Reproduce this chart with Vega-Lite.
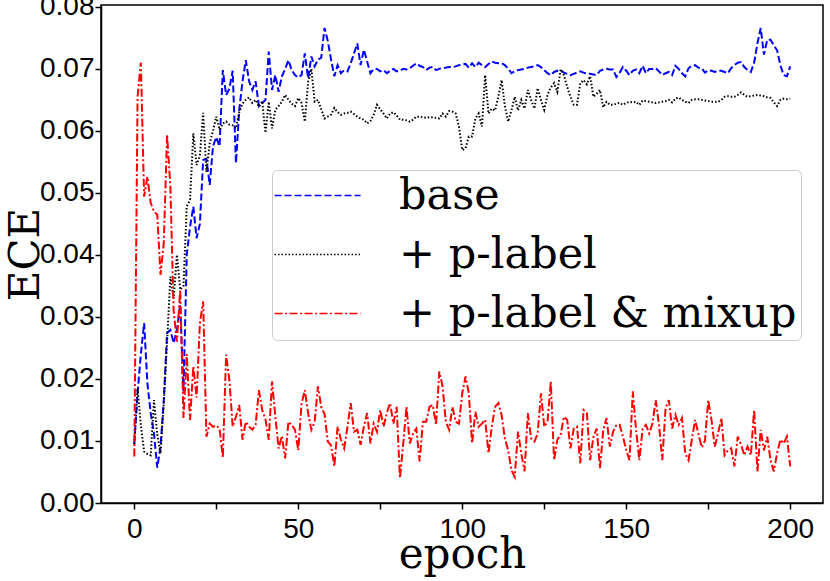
{
  "$schema": "https://vega.github.io/schema/vega-lite/v6.json",
  "width": 722,
  "height": 498,
  "padding": {"left": 101, "top": 5, "right": 7, "bottom": 78},
  "autosize": {"type": "none"},
  "data": {
    "values": [
      {"s":"base","e":0,"v":0.0096},{"s":"base","e":1,"v":0.0177},{"s":"base","e":2,"v":0.0240},{"s":"base","e":3,"v":0.0290},{"s":"base","e":4,"v":0.0193},
      {"s":"base","e":5,"v":0.0145},{"s":"base","e":6,"v":0.0112},{"s":"base","e":7,"v":0.0057},{"s":"base","e":8,"v":0.0091},{"s":"base","e":9,"v":0.0166},
      {"s":"base","e":10,"v":0.0274},{"s":"base","e":11,"v":0.0279},{"s":"base","e":12,"v":0.0258},{"s":"base","e":13,"v":0.0280},{"s":"base","e":14,"v":0.0320},
      {"s":"base","e":15,"v":0.0180},{"s":"base","e":16,"v":0.0400},{"s":"base","e":17,"v":0.0445},{"s":"base","e":18,"v":0.0478},{"s":"base","e":19,"v":0.0427},
      {"s":"base","e":20,"v":0.0450},{"s":"base","e":21,"v":0.0553},{"s":"base","e":22,"v":0.0555},{"s":"base","e":23,"v":0.0513},{"s":"base","e":24,"v":0.0575},
      {"s":"base","e":25,"v":0.0590},{"s":"base","e":26,"v":0.0575},{"s":"base","e":27,"v":0.0698},{"s":"base","e":28,"v":0.0658},{"s":"base","e":29,"v":0.0668},
      {"s":"base","e":30,"v":0.0697},{"s":"base","e":31,"v":0.0548},{"s":"base","e":32,"v":0.0634},{"s":"base","e":33,"v":0.0680},{"s":"base","e":34,"v":0.0714},
      {"s":"base","e":35,"v":0.0680},{"s":"base","e":36,"v":0.0666},{"s":"base","e":37,"v":0.0680},{"s":"base","e":38,"v":0.0640},{"s":"base","e":39,"v":0.0645},
      {"s":"base","e":40,"v":0.0650},{"s":"base","e":41,"v":0.0728},{"s":"base","e":42,"v":0.0666},{"s":"base","e":43,"v":0.0690},{"s":"base","e":44,"v":0.0663},
      {"s":"base","e":45,"v":0.0688},{"s":"base","e":46,"v":0.0700},{"s":"base","e":47,"v":0.0714},{"s":"base","e":48,"v":0.0698},{"s":"base","e":49,"v":0.0690},
      {"s":"base","e":50,"v":0.0686},{"s":"base","e":51,"v":0.0690},{"s":"base","e":52,"v":0.0725},{"s":"base","e":53,"v":0.0685},{"s":"base","e":54,"v":0.0720},
      {"s":"base","e":55,"v":0.0704},{"s":"base","e":56,"v":0.0715},{"s":"base","e":57,"v":0.0718},{"s":"base","e":58,"v":0.0766},{"s":"base","e":59,"v":0.0745},
      {"s":"base","e":60,"v":0.0715},{"s":"base","e":61,"v":0.0688},{"s":"base","e":62,"v":0.0706},{"s":"base","e":63,"v":0.0693},{"s":"base","e":64,"v":0.0698},
      {"s":"base","e":65,"v":0.0696},{"s":"base","e":66,"v":0.0709},{"s":"base","e":67,"v":0.0725},{"s":"base","e":68,"v":0.0741},{"s":"base","e":69,"v":0.0706},
      {"s":"base","e":70,"v":0.0731},{"s":"base","e":71,"v":0.0712},{"s":"base","e":72,"v":0.0693},{"s":"base","e":73,"v":0.0700},{"s":"base","e":74,"v":0.0700},
      {"s":"base","e":75,"v":0.0696},{"s":"base","e":76,"v":0.0698},{"s":"base","e":77,"v":0.0693},{"s":"base","e":78,"v":0.0697},{"s":"base","e":79,"v":0.0700},
      {"s":"base","e":80,"v":0.0696},{"s":"base","e":81,"v":0.0697},{"s":"base","e":82,"v":0.0700},{"s":"base","e":83,"v":0.0699},{"s":"base","e":84,"v":0.0701},
      {"s":"base","e":85,"v":0.0705},{"s":"base","e":86,"v":0.0709},{"s":"base","e":87,"v":0.0705},{"s":"base","e":88,"v":0.0703},{"s":"base","e":89,"v":0.0698},
      {"s":"base","e":90,"v":0.0702},{"s":"base","e":91,"v":0.0703},{"s":"base","e":92,"v":0.0698},{"s":"base","e":93,"v":0.0700},{"s":"base","e":94,"v":0.0701},
      {"s":"base","e":95,"v":0.0702},{"s":"base","e":96,"v":0.0703},{"s":"base","e":97,"v":0.0703},{"s":"base","e":98,"v":0.0704},{"s":"base","e":99,"v":0.0706},
      {"s":"base","e":100,"v":0.0707},{"s":"base","e":101,"v":0.0708},{"s":"base","e":102,"v":0.0702},{"s":"base","e":103,"v":0.0709},{"s":"base","e":104,"v":0.0703},
      {"s":"base","e":105,"v":0.0710},{"s":"base","e":106,"v":0.0706},{"s":"base","e":107,"v":0.0703},{"s":"base","e":108,"v":0.0708},{"s":"base","e":109,"v":0.0712},
      {"s":"base","e":110,"v":0.0710},{"s":"base","e":111,"v":0.0709},{"s":"base","e":112,"v":0.0709},{"s":"base","e":113,"v":0.0706},{"s":"base","e":114,"v":0.0701},
      {"s":"base","e":115,"v":0.0693},{"s":"base","e":116,"v":0.0696},{"s":"base","e":117,"v":0.0698},{"s":"base","e":118,"v":0.0699},{"s":"base","e":119,"v":0.0700},
      {"s":"base","e":120,"v":0.0702},{"s":"base","e":121,"v":0.0703},{"s":"base","e":122,"v":0.0704},{"s":"base","e":123,"v":0.0706},{"s":"base","e":124,"v":0.0703},
      {"s":"base","e":125,"v":0.0698},{"s":"base","e":126,"v":0.0693},{"s":"base","e":127,"v":0.0690},{"s":"base","e":128,"v":0.0695},{"s":"base","e":129,"v":0.0697},
      {"s":"base","e":130,"v":0.0698},{"s":"base","e":131,"v":0.0694},{"s":"base","e":132,"v":0.0692},{"s":"base","e":133,"v":0.0690},{"s":"base","e":134,"v":0.0692},
      {"s":"base","e":135,"v":0.0694},{"s":"base","e":136,"v":0.0696},{"s":"base","e":137,"v":0.0694},{"s":"base","e":138,"v":0.0692},{"s":"base","e":139,"v":0.0692},
      {"s":"base","e":140,"v":0.0691},{"s":"base","e":141,"v":0.0690},{"s":"base","e":142,"v":0.0697},{"s":"base","e":143,"v":0.0699},{"s":"base","e":144,"v":0.0700},
      {"s":"base","e":145,"v":0.0699},{"s":"base","e":146,"v":0.0699},{"s":"base","e":147,"v":0.0687},{"s":"base","e":148,"v":0.0694},{"s":"base","e":149,"v":0.0703},
      {"s":"base","e":150,"v":0.0697},{"s":"base","e":151,"v":0.0690},{"s":"base","e":152,"v":0.0697},{"s":"base","e":153,"v":0.0699},{"s":"base","e":154,"v":0.0693},
      {"s":"base","e":155,"v":0.0705},{"s":"base","e":156,"v":0.0693},{"s":"base","e":157,"v":0.0700},{"s":"base","e":158,"v":0.0700},{"s":"base","e":159,"v":0.0701},
      {"s":"base","e":160,"v":0.0696},{"s":"base","e":161,"v":0.0690},{"s":"base","e":162,"v":0.0693},{"s":"base","e":163,"v":0.0695},{"s":"base","e":164,"v":0.0690},
      {"s":"base","e":165,"v":0.0705},{"s":"base","e":166,"v":0.0700},{"s":"base","e":167,"v":0.0693},{"s":"base","e":168,"v":0.0688},{"s":"base","e":169,"v":0.0701},
      {"s":"base","e":170,"v":0.0705},{"s":"base","e":171,"v":0.0706},{"s":"base","e":172,"v":0.0702},{"s":"base","e":173,"v":0.0701},{"s":"base","e":174,"v":0.0694},
      {"s":"base","e":175,"v":0.0698},{"s":"base","e":176,"v":0.0697},{"s":"base","e":177,"v":0.0695},{"s":"base","e":178,"v":0.0697},{"s":"base","e":179,"v":0.0697},
      {"s":"base","e":180,"v":0.0695},{"s":"base","e":181,"v":0.0693},{"s":"base","e":182,"v":0.0701},{"s":"base","e":183,"v":0.0706},{"s":"base","e":184,"v":0.0710},
      {"s":"base","e":185,"v":0.0711},{"s":"base","e":186,"v":0.0703},{"s":"base","e":187,"v":0.0698},{"s":"base","e":188,"v":0.0695},{"s":"base","e":189,"v":0.0710},
      {"s":"base","e":190,"v":0.0741},{"s":"base","e":191,"v":0.0766},{"s":"base","e":192,"v":0.0723},{"s":"base","e":193,"v":0.0747},{"s":"base","e":194,"v":0.0747},
      {"s":"base","e":195,"v":0.0738},{"s":"base","e":196,"v":0.0730},{"s":"base","e":197,"v":0.0706},{"s":"base","e":198,"v":0.0690},{"s":"base","e":199,"v":0.0688},
      {"s":"base","e":200,"v":0.0704},

      {"s":"+ p-label","e":0,"v":0.0095},{"s":"+ p-label","e":1,"v":0.0185},{"s":"+ p-label","e":2,"v":0.0125},{"s":"+ p-label","e":3,"v":0.0083},{"s":"+ p-label","e":4,"v":0.0079},
      {"s":"+ p-label","e":5,"v":0.0077},{"s":"+ p-label","e":6,"v":0.0166},{"s":"+ p-label","e":7,"v":0.0110},{"s":"+ p-label","e":8,"v":0.0080},{"s":"+ p-label","e":9,"v":0.0161},
      {"s":"+ p-label","e":10,"v":0.0260},{"s":"+ p-label","e":11,"v":0.0365},{"s":"+ p-label","e":12,"v":0.0330},{"s":"+ p-label","e":13,"v":0.0400},{"s":"+ p-label","e":14,"v":0.0344},
      {"s":"+ p-label","e":15,"v":0.0350},{"s":"+ p-label","e":16,"v":0.0478},{"s":"+ p-label","e":17,"v":0.0489},{"s":"+ p-label","e":18,"v":0.0596},{"s":"+ p-label","e":19,"v":0.0545},
      {"s":"+ p-label","e":20,"v":0.0560},{"s":"+ p-label","e":21,"v":0.0629},{"s":"+ p-label","e":22,"v":0.0534},{"s":"+ p-label","e":23,"v":0.0580},{"s":"+ p-label","e":24,"v":0.0600},
      {"s":"+ p-label","e":25,"v":0.0623},{"s":"+ p-label","e":26,"v":0.0602},{"s":"+ p-label","e":27,"v":0.0612},{"s":"+ p-label","e":28,"v":0.0615},{"s":"+ p-label","e":29,"v":0.0610},
      {"s":"+ p-label","e":30,"v":0.0609},{"s":"+ p-label","e":31,"v":0.0604},{"s":"+ p-label","e":32,"v":0.0630},{"s":"+ p-label","e":33,"v":0.0644},{"s":"+ p-label","e":34,"v":0.0650},
      {"s":"+ p-label","e":35,"v":0.0654},{"s":"+ p-label","e":36,"v":0.0645},{"s":"+ p-label","e":37,"v":0.0650},{"s":"+ p-label","e":38,"v":0.0639},{"s":"+ p-label","e":39,"v":0.0648},
      {"s":"+ p-label","e":40,"v":0.0597},{"s":"+ p-label","e":41,"v":0.0647},{"s":"+ p-label","e":42,"v":0.0604},{"s":"+ p-label","e":43,"v":0.0634},{"s":"+ p-label","e":44,"v":0.0640},
      {"s":"+ p-label","e":45,"v":0.0647},{"s":"+ p-label","e":46,"v":0.0658},{"s":"+ p-label","e":47,"v":0.0650},{"s":"+ p-label","e":48,"v":0.0644},{"s":"+ p-label","e":49,"v":0.0640},
      {"s":"+ p-label","e":50,"v":0.0653},{"s":"+ p-label","e":51,"v":0.0645},{"s":"+ p-label","e":52,"v":0.0615},{"s":"+ p-label","e":53,"v":0.0679},{"s":"+ p-label","e":54,"v":0.0700},
      {"s":"+ p-label","e":55,"v":0.0647},{"s":"+ p-label","e":56,"v":0.0650},{"s":"+ p-label","e":57,"v":0.0635},{"s":"+ p-label","e":58,"v":0.0620},{"s":"+ p-label","e":59,"v":0.0623},
      {"s":"+ p-label","e":60,"v":0.0626},{"s":"+ p-label","e":61,"v":0.0637},{"s":"+ p-label","e":62,"v":0.0630},{"s":"+ p-label","e":63,"v":0.0626},{"s":"+ p-label","e":64,"v":0.0628},
      {"s":"+ p-label","e":65,"v":0.0629},{"s":"+ p-label","e":66,"v":0.0631},{"s":"+ p-label","e":67,"v":0.0627},{"s":"+ p-label","e":68,"v":0.0623},{"s":"+ p-label","e":69,"v":0.0620},
      {"s":"+ p-label","e":70,"v":0.0618},{"s":"+ p-label","e":71,"v":0.0612},{"s":"+ p-label","e":72,"v":0.0616},{"s":"+ p-label","e":73,"v":0.0626},{"s":"+ p-label","e":74,"v":0.0642},
      {"s":"+ p-label","e":75,"v":0.0635},{"s":"+ p-label","e":76,"v":0.0628},{"s":"+ p-label","e":77,"v":0.0620},{"s":"+ p-label","e":78,"v":0.0628},{"s":"+ p-label","e":79,"v":0.0630},
      {"s":"+ p-label","e":80,"v":0.0625},{"s":"+ p-label","e":81,"v":0.0618},{"s":"+ p-label","e":82,"v":0.0618},{"s":"+ p-label","e":83,"v":0.0617},{"s":"+ p-label","e":84,"v":0.0615},
      {"s":"+ p-label","e":85,"v":0.0618},{"s":"+ p-label","e":86,"v":0.0623},{"s":"+ p-label","e":87,"v":0.0623},{"s":"+ p-label","e":88,"v":0.0622},{"s":"+ p-label","e":89,"v":0.0621},
      {"s":"+ p-label","e":90,"v":0.0622},{"s":"+ p-label","e":91,"v":0.0622},{"s":"+ p-label","e":92,"v":0.0621},{"s":"+ p-label","e":93,"v":0.0620},{"s":"+ p-label","e":94,"v":0.0628},
      {"s":"+ p-label","e":95,"v":0.0623},{"s":"+ p-label","e":96,"v":0.0632},{"s":"+ p-label","e":97,"v":0.0631},{"s":"+ p-label","e":98,"v":0.0628},{"s":"+ p-label","e":99,"v":0.0607},
      {"s":"+ p-label","e":100,"v":0.0569},{"s":"+ p-label","e":101,"v":0.0572},{"s":"+ p-label","e":102,"v":0.0591},{"s":"+ p-label","e":103,"v":0.0591},{"s":"+ p-label","e":104,"v":0.0620},
      {"s":"+ p-label","e":105,"v":0.0628},{"s":"+ p-label","e":106,"v":0.0607},{"s":"+ p-label","e":107,"v":0.0690},{"s":"+ p-label","e":108,"v":0.0628},{"s":"+ p-label","e":109,"v":0.0636},
      {"s":"+ p-label","e":110,"v":0.0633},{"s":"+ p-label","e":111,"v":0.0655},{"s":"+ p-label","e":112,"v":0.0682},{"s":"+ p-label","e":113,"v":0.0640},{"s":"+ p-label","e":114,"v":0.0615},
      {"s":"+ p-label","e":115,"v":0.0633},{"s":"+ p-label","e":116,"v":0.0655},{"s":"+ p-label","e":117,"v":0.0633},{"s":"+ p-label","e":118,"v":0.0650},{"s":"+ p-label","e":119,"v":0.0636},
      {"s":"+ p-label","e":120,"v":0.0666},{"s":"+ p-label","e":121,"v":0.0650},{"s":"+ p-label","e":122,"v":0.0636},{"s":"+ p-label","e":123,"v":0.0669},{"s":"+ p-label","e":124,"v":0.0650},
      {"s":"+ p-label","e":125,"v":0.0634},{"s":"+ p-label","e":126,"v":0.0658},{"s":"+ p-label","e":127,"v":0.0670},{"s":"+ p-label","e":128,"v":0.0677},{"s":"+ p-label","e":129,"v":0.0663},
      {"s":"+ p-label","e":130,"v":0.0699},{"s":"+ p-label","e":131,"v":0.0690},{"s":"+ p-label","e":132,"v":0.0671},{"s":"+ p-label","e":133,"v":0.0655},{"s":"+ p-label","e":134,"v":0.0642},
      {"s":"+ p-label","e":135,"v":0.0642},{"s":"+ p-label","e":136,"v":0.0677},{"s":"+ p-label","e":137,"v":0.0682},{"s":"+ p-label","e":138,"v":0.0675},{"s":"+ p-label","e":139,"v":0.0688},
      {"s":"+ p-label","e":140,"v":0.0655},{"s":"+ p-label","e":141,"v":0.0660},{"s":"+ p-label","e":142,"v":0.0666},{"s":"+ p-label","e":143,"v":0.0638},{"s":"+ p-label","e":144,"v":0.0647},
      {"s":"+ p-label","e":145,"v":0.0642},{"s":"+ p-label","e":146,"v":0.0642},{"s":"+ p-label","e":147,"v":0.0644},{"s":"+ p-label","e":148,"v":0.0645},{"s":"+ p-label","e":149,"v":0.0642},
      {"s":"+ p-label","e":150,"v":0.0645},{"s":"+ p-label","e":151,"v":0.0647},{"s":"+ p-label","e":152,"v":0.0646},{"s":"+ p-label","e":153,"v":0.0647},{"s":"+ p-label","e":154,"v":0.0642},
      {"s":"+ p-label","e":155,"v":0.0649},{"s":"+ p-label","e":156,"v":0.0648},{"s":"+ p-label","e":157,"v":0.0647},{"s":"+ p-label","e":158,"v":0.0646},{"s":"+ p-label","e":159,"v":0.0645},
      {"s":"+ p-label","e":160,"v":0.0646},{"s":"+ p-label","e":161,"v":0.0647},{"s":"+ p-label","e":162,"v":0.0648},{"s":"+ p-label","e":163,"v":0.0650},{"s":"+ p-label","e":164,"v":0.0646},
      {"s":"+ p-label","e":165,"v":0.0652},{"s":"+ p-label","e":166,"v":0.0654},{"s":"+ p-label","e":167,"v":0.0650},{"s":"+ p-label","e":168,"v":0.0647},{"s":"+ p-label","e":169,"v":0.0645},
      {"s":"+ p-label","e":170,"v":0.0650},{"s":"+ p-label","e":171,"v":0.0651},{"s":"+ p-label","e":172,"v":0.0651},{"s":"+ p-label","e":173,"v":0.0650},{"s":"+ p-label","e":174,"v":0.0649},
      {"s":"+ p-label","e":175,"v":0.0648},{"s":"+ p-label","e":176,"v":0.0647},{"s":"+ p-label","e":177,"v":0.0647},{"s":"+ p-label","e":178,"v":0.0647},{"s":"+ p-label","e":179,"v":0.0650},
      {"s":"+ p-label","e":180,"v":0.0655},{"s":"+ p-label","e":181,"v":0.0656},{"s":"+ p-label","e":182,"v":0.0655},{"s":"+ p-label","e":183,"v":0.0655},{"s":"+ p-label","e":184,"v":0.0658},
      {"s":"+ p-label","e":185,"v":0.0662},{"s":"+ p-label","e":186,"v":0.0658},{"s":"+ p-label","e":187,"v":0.0655},{"s":"+ p-label","e":188,"v":0.0656},{"s":"+ p-label","e":189,"v":0.0657},
      {"s":"+ p-label","e":190,"v":0.0658},{"s":"+ p-label","e":191,"v":0.0657},{"s":"+ p-label","e":192,"v":0.0656},{"s":"+ p-label","e":193,"v":0.0654},{"s":"+ p-label","e":194,"v":0.0653},
      {"s":"+ p-label","e":195,"v":0.0646},{"s":"+ p-label","e":196,"v":0.0640},{"s":"+ p-label","e":197,"v":0.0650},{"s":"+ p-label","e":198,"v":0.0652},{"s":"+ p-label","e":199,"v":0.0651},
      {"s":"+ p-label","e":200,"v":0.0652},

      {"s":"+ p-label & mixup","e":0,"v":0.0075},{"s":"+ p-label & mixup","e":1,"v":0.0655},{"s":"+ p-label & mixup","e":2,"v":0.0710},{"s":"+ p-label & mixup","e":3,"v":0.0494},{"s":"+ p-label & mixup","e":4,"v":0.0526},
      {"s":"+ p-label & mixup","e":5,"v":0.0484},{"s":"+ p-label & mixup","e":6,"v":0.0470},{"s":"+ p-label & mixup","e":7,"v":0.0465},{"s":"+ p-label & mixup","e":8,"v":0.0368},{"s":"+ p-label & mixup","e":9,"v":0.0420},
      {"s":"+ p-label & mixup","e":10,"v":0.0594},{"s":"+ p-label & mixup","e":11,"v":0.0510},{"s":"+ p-label & mixup","e":12,"v":0.0310},{"s":"+ p-label & mixup","e":13,"v":0.0260},{"s":"+ p-label & mixup","e":14,"v":0.0344},
      {"s":"+ p-label & mixup","e":15,"v":0.0137},{"s":"+ p-label & mixup","e":16,"v":0.0240},{"s":"+ p-label & mixup","e":17,"v":0.0134},{"s":"+ p-label & mixup","e":18,"v":0.0220},{"s":"+ p-label & mixup","e":19,"v":0.0170},
      {"s":"+ p-label & mixup","e":20,"v":0.0290},{"s":"+ p-label & mixup","e":21,"v":0.0325},{"s":"+ p-label & mixup","e":22,"v":0.0107},{"s":"+ p-label & mixup","e":23,"v":0.0128},{"s":"+ p-label & mixup","e":24,"v":0.0123},
      {"s":"+ p-label & mixup","e":25,"v":0.0125},{"s":"+ p-label & mixup","e":26,"v":0.0120},{"s":"+ p-label & mixup","e":27,"v":0.0073},{"s":"+ p-label & mixup","e":28,"v":0.0239},{"s":"+ p-label & mixup","e":29,"v":0.0198},
      {"s":"+ p-label & mixup","e":30,"v":0.0123},{"s":"+ p-label & mixup","e":31,"v":0.0139},{"s":"+ p-label & mixup","e":32,"v":0.0158},{"s":"+ p-label & mixup","e":33,"v":0.0102},{"s":"+ p-label & mixup","e":34,"v":0.0131},
      {"s":"+ p-label & mixup","e":35,"v":0.0123},{"s":"+ p-label & mixup","e":36,"v":0.0118},{"s":"+ p-label & mixup","e":37,"v":0.0126},{"s":"+ p-label & mixup","e":38,"v":0.0182},{"s":"+ p-label & mixup","e":39,"v":0.0150},
      {"s":"+ p-label & mixup","e":40,"v":0.0135},{"s":"+ p-label & mixup","e":41,"v":0.0102},{"s":"+ p-label & mixup","e":42,"v":0.0196},{"s":"+ p-label & mixup","e":43,"v":0.0140},{"s":"+ p-label & mixup","e":44,"v":0.0088},
      {"s":"+ p-label & mixup","e":45,"v":0.0108},{"s":"+ p-label & mixup","e":46,"v":0.0072},{"s":"+ p-label & mixup","e":47,"v":0.0131},{"s":"+ p-label & mixup","e":48,"v":0.0126},{"s":"+ p-label & mixup","e":49,"v":0.0118},
      {"s":"+ p-label & mixup","e":50,"v":0.0085},{"s":"+ p-label & mixup","e":51,"v":0.0160},{"s":"+ p-label & mixup","e":52,"v":0.0182},{"s":"+ p-label & mixup","e":53,"v":0.0145},{"s":"+ p-label & mixup","e":54,"v":0.0118},
      {"s":"+ p-label & mixup","e":55,"v":0.0131},{"s":"+ p-label & mixup","e":56,"v":0.0188},{"s":"+ p-label & mixup","e":57,"v":0.0155},{"s":"+ p-label & mixup","e":58,"v":0.0144},{"s":"+ p-label & mixup","e":59,"v":0.0099},
      {"s":"+ p-label & mixup","e":60,"v":0.0093},{"s":"+ p-label & mixup","e":61,"v":0.0059},{"s":"+ p-label & mixup","e":62,"v":0.0123},{"s":"+ p-label & mixup","e":63,"v":0.0102},{"s":"+ p-label & mixup","e":64,"v":0.0088},
      {"s":"+ p-label & mixup","e":65,"v":0.0123},{"s":"+ p-label & mixup","e":66,"v":0.0161},{"s":"+ p-label & mixup","e":67,"v":0.0115},{"s":"+ p-label & mixup","e":68,"v":0.0118},{"s":"+ p-label & mixup","e":69,"v":0.0094},
      {"s":"+ p-label & mixup","e":70,"v":0.0123},{"s":"+ p-label & mixup","e":71,"v":0.0145},{"s":"+ p-label & mixup","e":72,"v":0.0096},{"s":"+ p-label & mixup","e":73,"v":0.0128},{"s":"+ p-label & mixup","e":74,"v":0.0115},
      {"s":"+ p-label & mixup","e":75,"v":0.0150},{"s":"+ p-label & mixup","e":76,"v":0.0123},{"s":"+ p-label & mixup","e":77,"v":0.0145},{"s":"+ p-label & mixup","e":78,"v":0.0161},{"s":"+ p-label & mixup","e":79,"v":0.0128},
      {"s":"+ p-label & mixup","e":80,"v":0.0155},{"s":"+ p-label & mixup","e":81,"v":0.0040},{"s":"+ p-label & mixup","e":82,"v":0.0096},{"s":"+ p-label & mixup","e":83,"v":0.0155},{"s":"+ p-label & mixup","e":84,"v":0.0096},
      {"s":"+ p-label & mixup","e":85,"v":0.0112},{"s":"+ p-label & mixup","e":86,"v":0.0120},{"s":"+ p-label & mixup","e":87,"v":0.0067},{"s":"+ p-label & mixup","e":88,"v":0.0131},{"s":"+ p-label & mixup","e":89,"v":0.0131},
      {"s":"+ p-label & mixup","e":90,"v":0.0155},{"s":"+ p-label & mixup","e":91,"v":0.0158},{"s":"+ p-label & mixup","e":92,"v":0.0126},{"s":"+ p-label & mixup","e":93,"v":0.0212},{"s":"+ p-label & mixup","e":94,"v":0.0188},
      {"s":"+ p-label & mixup","e":95,"v":0.0131},{"s":"+ p-label & mixup","e":96,"v":0.0118},{"s":"+ p-label & mixup","e":97,"v":0.0155},{"s":"+ p-label & mixup","e":98,"v":0.0131},{"s":"+ p-label & mixup","e":99,"v":0.0128},
      {"s":"+ p-label & mixup","e":100,"v":0.0177},{"s":"+ p-label & mixup","e":101,"v":0.0204},{"s":"+ p-label & mixup","e":102,"v":0.0177},{"s":"+ p-label & mixup","e":103,"v":0.0096},{"s":"+ p-label & mixup","e":104,"v":0.0147},
      {"s":"+ p-label & mixup","e":105,"v":0.0123},{"s":"+ p-label & mixup","e":106,"v":0.0128},{"s":"+ p-label & mixup","e":107,"v":0.0134},{"s":"+ p-label & mixup","e":108,"v":0.0080},{"s":"+ p-label & mixup","e":109,"v":0.0123},
      {"s":"+ p-label & mixup","e":110,"v":0.0155},{"s":"+ p-label & mixup","e":111,"v":0.0161},{"s":"+ p-label & mixup","e":112,"v":0.0142},{"s":"+ p-label & mixup","e":113,"v":0.0104},{"s":"+ p-label & mixup","e":114,"v":0.0085},
      {"s":"+ p-label & mixup","e":115,"v":0.0053},{"s":"+ p-label & mixup","e":116,"v":0.0042},{"s":"+ p-label & mixup","e":117,"v":0.0115},{"s":"+ p-label & mixup","e":118,"v":0.0080},{"s":"+ p-label & mixup","e":119,"v":0.0051},
      {"s":"+ p-label & mixup","e":120,"v":0.0145},{"s":"+ p-label & mixup","e":121,"v":0.0104},{"s":"+ p-label & mixup","e":122,"v":0.0099},{"s":"+ p-label & mixup","e":123,"v":0.0112},{"s":"+ p-label & mixup","e":124,"v":0.0177},
      {"s":"+ p-label & mixup","e":125,"v":0.0123},{"s":"+ p-label & mixup","e":126,"v":0.0131},{"s":"+ p-label & mixup","e":127,"v":0.0196},{"s":"+ p-label & mixup","e":128,"v":0.0069},{"s":"+ p-label & mixup","e":129,"v":0.0102},
      {"s":"+ p-label & mixup","e":130,"v":0.0110},{"s":"+ p-label & mixup","e":131,"v":0.0139},{"s":"+ p-label & mixup","e":132,"v":0.0134},{"s":"+ p-label & mixup","e":133,"v":0.0088},{"s":"+ p-label & mixup","e":134,"v":0.0120},
      {"s":"+ p-label & mixup","e":135,"v":0.0123},{"s":"+ p-label & mixup","e":136,"v":0.0064},{"s":"+ p-label & mixup","e":137,"v":0.0150},{"s":"+ p-label & mixup","e":138,"v":0.0145},{"s":"+ p-label & mixup","e":139,"v":0.0069},
      {"s":"+ p-label & mixup","e":140,"v":0.0107},{"s":"+ p-label & mixup","e":141,"v":0.0120},{"s":"+ p-label & mixup","e":142,"v":0.0056},{"s":"+ p-label & mixup","e":143,"v":0.0118},{"s":"+ p-label & mixup","e":144,"v":0.0137},
      {"s":"+ p-label & mixup","e":145,"v":0.0091},{"s":"+ p-label & mixup","e":146,"v":0.0115},{"s":"+ p-label & mixup","e":147,"v":0.0126},{"s":"+ p-label & mixup","e":148,"v":0.0126},{"s":"+ p-label & mixup","e":149,"v":0.0107},
      {"s":"+ p-label & mixup","e":150,"v":0.0085},{"s":"+ p-label & mixup","e":151,"v":0.0069},{"s":"+ p-label & mixup","e":152,"v":0.0180},{"s":"+ p-label & mixup","e":153,"v":0.0118},{"s":"+ p-label & mixup","e":154,"v":0.0069},
      {"s":"+ p-label & mixup","e":155,"v":0.0120},{"s":"+ p-label & mixup","e":156,"v":0.0126},{"s":"+ p-label & mixup","e":157,"v":0.0112},{"s":"+ p-label & mixup","e":158,"v":0.0128},{"s":"+ p-label & mixup","e":159,"v":0.0166},
      {"s":"+ p-label & mixup","e":160,"v":0.0126},{"s":"+ p-label & mixup","e":161,"v":0.0069},{"s":"+ p-label & mixup","e":162,"v":0.0153},{"s":"+ p-label & mixup","e":163,"v":0.0166},{"s":"+ p-label & mixup","e":164,"v":0.0120},
      {"s":"+ p-label & mixup","e":165,"v":0.0142},{"s":"+ p-label & mixup","e":166,"v":0.0126},{"s":"+ p-label & mixup","e":167,"v":0.0137},{"s":"+ p-label & mixup","e":168,"v":0.0080},{"s":"+ p-label & mixup","e":169,"v":0.0069},
      {"s":"+ p-label & mixup","e":170,"v":0.0102},{"s":"+ p-label & mixup","e":171,"v":0.0134},{"s":"+ p-label & mixup","e":172,"v":0.0112},{"s":"+ p-label & mixup","e":173,"v":0.0090},{"s":"+ p-label & mixup","e":174,"v":0.0100},
      {"s":"+ p-label & mixup","e":175,"v":0.0166},{"s":"+ p-label & mixup","e":176,"v":0.0134},{"s":"+ p-label & mixup","e":177,"v":0.0091},{"s":"+ p-label & mixup","e":178,"v":0.0112},{"s":"+ p-label & mixup","e":179,"v":0.0137},
      {"s":"+ p-label & mixup","e":180,"v":0.0077},{"s":"+ p-label & mixup","e":181,"v":0.0085},{"s":"+ p-label & mixup","e":182,"v":0.0088},{"s":"+ p-label & mixup","e":183,"v":0.0059},{"s":"+ p-label & mixup","e":184,"v":0.0107},
      {"s":"+ p-label & mixup","e":185,"v":0.0094},{"s":"+ p-label & mixup","e":186,"v":0.0077},{"s":"+ p-label & mixup","e":187,"v":0.0091},{"s":"+ p-label & mixup","e":188,"v":0.0077},{"s":"+ p-label & mixup","e":189,"v":0.0150},
      {"s":"+ p-label & mixup","e":190,"v":0.0051},{"s":"+ p-label & mixup","e":191,"v":0.0118},{"s":"+ p-label & mixup","e":192,"v":0.0085},{"s":"+ p-label & mixup","e":193,"v":0.0107},{"s":"+ p-label & mixup","e":194,"v":0.0069},
      {"s":"+ p-label & mixup","e":195,"v":0.0051},{"s":"+ p-label & mixup","e":196,"v":0.0080},{"s":"+ p-label & mixup","e":197,"v":0.0102},{"s":"+ p-label & mixup","e":198,"v":0.0096},{"s":"+ p-label & mixup","e":199,"v":0.0107},
      {"s":"+ p-label & mixup","e":200,"v":0.0059}
    ]
  },
  "mark": {"type": "line", "strokeWidth": 2},
  "encoding": {
    "x": {
      "field": "e",
      "type": "quantitative",
      "title": "epoch",
      "scale": {"domain": [-10.15, 210], "nice": false, "zero": false},
      "axis": {
        "values": [0, 25, 50, 75, 100, 125, 150, 175, 200],
        "labelExpr": "datum.value % 50 == 0 ? datum.label : ''",
        "labelPadding": 6,
        "titleY": 64,
        "titleBaseline": "alphabetic"
      }
    },
    "y": {
      "field": "v",
      "type": "quantitative",
      "title": "ECE",
      "scale": {"domain": [0, 0.0803], "nice": false},
      "axis": {
        "values": [0, 0.01, 0.02, 0.03, 0.04, 0.05, 0.06, 0.07, 0.08],
        "format": ".2f",
        "labelPadding": 1,
        "titleX": -63,
        "titleY": 249,
        "titleAngle": -90,
        "titleAlign": "center",
        "titleBaseline": "alphabetic"
      }
    },
    "color": {
      "field": "s",
      "type": "nominal",
      "title": null,
      "scale": {
        "domain": ["base", "+ p-label", "+ p-label & mixup"],
        "range": ["#0000ff", "#000000", "#ff0000"]
      }
    },
    "strokeDash": {
      "field": "s",
      "type": "nominal",
      "title": null,
      "scale": {
        "domain": ["base", "+ p-label", "+ p-label & mixup"],
        "range": [[7, 3], [1.5, 2], [8, 2.5, 2, 2.5]]
      }
    }
  },
  "config": {
    "view": {"stroke": "black", "strokeWidth": 1.5},
    "axis": {
      "grid": false,
      "domainColor": "black",
      "domainWidth": 1.5,
      "tickColor": "black",
      "tickWidth": 1.5,
      "tickSize": 6,
      "labelFont": "Liberation Sans",
      "labelFontSize": 28,
      "labelColor": "black",
      "titleFont": "DejaVu Serif",
      "titleFontSize": 42,
      "titleFontWeight": "normal",
      "titleColor": "black"
    },
    "legend": {
      "orient": "none",
      "legendX": 171,
      "legendY": 165,
      "padding": 4,
      "fillColor": "rgba(255,255,255,0.8)",
      "strokeColor": "#cccccc",
      "cornerRadius": 5,
      "symbolType": "M-1.6,0H4.4",
      "symbolSize": 822,
      "symbolStrokeWidth": 1.5,
      "labelFont": "DejaVu Serif",
      "labelFontSize": 43,
      "labelColor": "black",
      "labelOffset": 80,
      "labelLimit": 600,
      "rowPadding": 15
    }
  }
}
